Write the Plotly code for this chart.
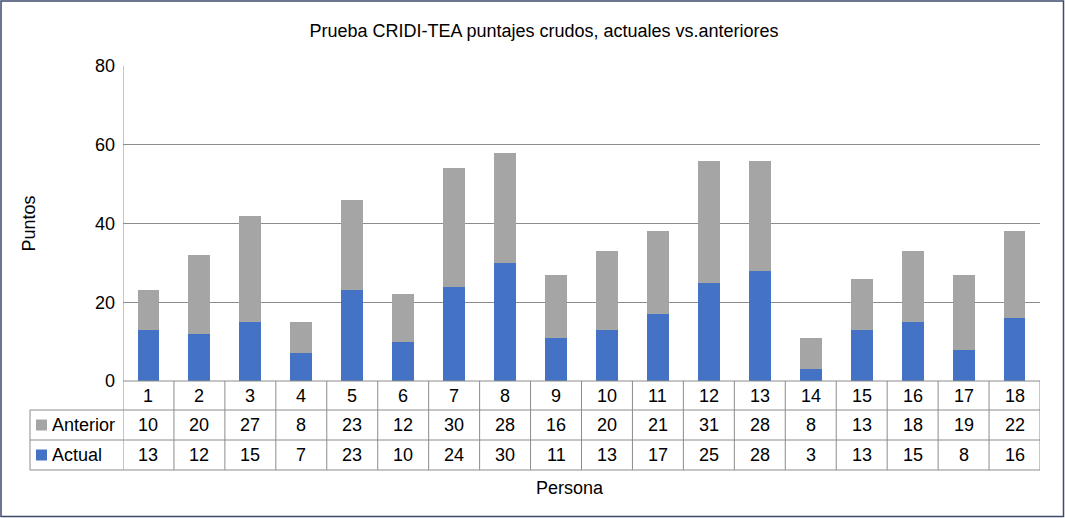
import plotly.graph_objects as go

personas = [str(i) for i in range(1, 19)]
anterior = [10, 20, 27, 8, 23, 12, 30, 28, 16, 20, 21, 31, 28, 8, 13, 18, 19, 22]
actual = [13, 12, 15, 7, 23, 10, 24, 30, 11, 13, 17, 25, 28, 3, 13, 15, 8, 16]
yticks = [0, 20, 40, 60, 80]

BLUE = "#4472C4"
GRAY = "#A5A5A5"
LINE = "#8C8C8C"
FONT = "Liberation Sans, Arial, sans-serif"
FS = 18

W, H = 1065, 518
ML, MR, MT, MB = 123, 25, 66, 137
PW = W - ML - MR
PH = H - MT - MB

def px_x(px):
    return (px - ML) / PW

def px_y(py):
    return (H - MB - py) / PH

xs = list(range(len(personas)))

fig = go.Figure()
fig.add_trace(go.Bar(x=xs, y=actual, name="Actual", marker_color=BLUE, marker_line_width=0))
fig.add_trace(go.Bar(x=xs, y=anterior, name="Anterior", marker_color=GRAY, marker_line_width=0))

row_top = H - MB  # 381
row_h = [29, 30, 30]
bounds = [row_top]
for h in row_h:
    bounds.append(bounds[-1] + h)
label_left = 30

shapes = []
annotations = []

shapes.append(dict(type="line", xref="paper", yref="paper", x0=0, x1=1,
                   y0=px_y(bounds[0]), y1=px_y(bounds[0]), line=dict(color=LINE, width=1)))
for b in bounds[1:]:
    shapes.append(dict(type="line", xref="paper", yref="paper", x0=px_x(label_left), x1=1,
                       y0=px_y(b), y1=px_y(b), line=dict(color=LINE, width=1)))
for i in range(len(personas) + 1):
    shapes.append(dict(type="line", xref="x", yref="paper", x0=i - 0.5, x1=i - 0.5,
                       y0=px_y(bounds[0]) if i else 1, y1=px_y(bounds[-1]),
                       line=dict(color=LINE, width=1)))
shapes.append(dict(type="line", xref="paper", yref="paper", x0=px_x(label_left), x1=px_x(label_left),
                   y0=px_y(bounds[1]), y1=px_y(bounds[-1]), line=dict(color=LINE, width=1)))

rows = [(personas, None, None), ([str(v) for v in anterior], "Anterior", GRAY),
        ([str(v) for v in actual], "Actual", BLUE)]
for r, (vals, lab, col) in enumerate(rows):
    yc = px_y((bounds[r] + bounds[r + 1]) / 2)
    for i, v in enumerate(vals):
        annotations.append(dict(x=i, y=yc, xref="x", yref="paper", text=v, showarrow=False,
                                font=dict(family=FONT, size=FS, color="#000000"),
                                xanchor="center", yanchor="middle"))
    if lab:
        shapes.append(dict(type="rect", xref="paper", yref="paper",
                           x0=px_x(36), x1=px_x(47), y0=yc - 5.5 / PH, y1=yc + 5.5 / PH,
                           fillcolor=col, line=dict(width=0)))
        annotations.append(dict(x=px_x(50), y=yc, xref="paper", yref="paper", text=lab,
                                showarrow=False, xanchor="left", yanchor="middle",
                                font=dict(family=FONT, size=FS, color="#000000")))

annotations.append(dict(x=px_x(570), y=px_y(488), xref="paper", yref="paper", text="Persona",
                        showarrow=False, xanchor="center", yanchor="middle",
                        font=dict(family=FONT, size=FS, color="#000000")))

shapes.append(dict(type="rect", xref="paper", yref="paper",
                   x0=px_x(1), x1=px_x(W - 1.5), y0=px_y(1), y1=px_y(H - 1.5),
                   line=dict(color="#3C4A6E", width=1.5)))

fig.update_layout(
    width=W, height=H,
    margin=dict(l=ML, r=MR, t=MT, b=MB, autoexpand=False),
    barmode="stack",
    bargap=0.57,
    plot_bgcolor="white", paper_bgcolor="white",
    showlegend=False,
    title=dict(text="Prueba CRIDI-TEA puntajes crudos, actuales vs.anteriores",
               x=544 / W, xanchor="center", y=1 - 31 / H, yanchor="middle",
               font=dict(family=FONT, size=FS, color="#000000")),
    xaxis=dict(range=[-0.5, len(personas) - 0.5], showticklabels=False, showgrid=False,
               zeroline=False, showline=False, ticks=""),
    yaxis=dict(range=[0, 80], tickvals=yticks, showgrid=True, gridcolor=LINE, gridwidth=1,
               zeroline=False, showline=False, ticks="", ticklabelstandoff=7,
               tickfont=dict(family=FONT, size=FS, color="#000000"),
               title=dict(text="Puntos", standoff=54,
                          font=dict(family=FONT, size=FS, color="#000000"))),
    shapes=shapes,
    annotations=annotations,
)

fig.write_html("out.html", config={"displayModeBar": False},
               post_script="document.body.style.margin='0';document.body.style.overflow='hidden';")
